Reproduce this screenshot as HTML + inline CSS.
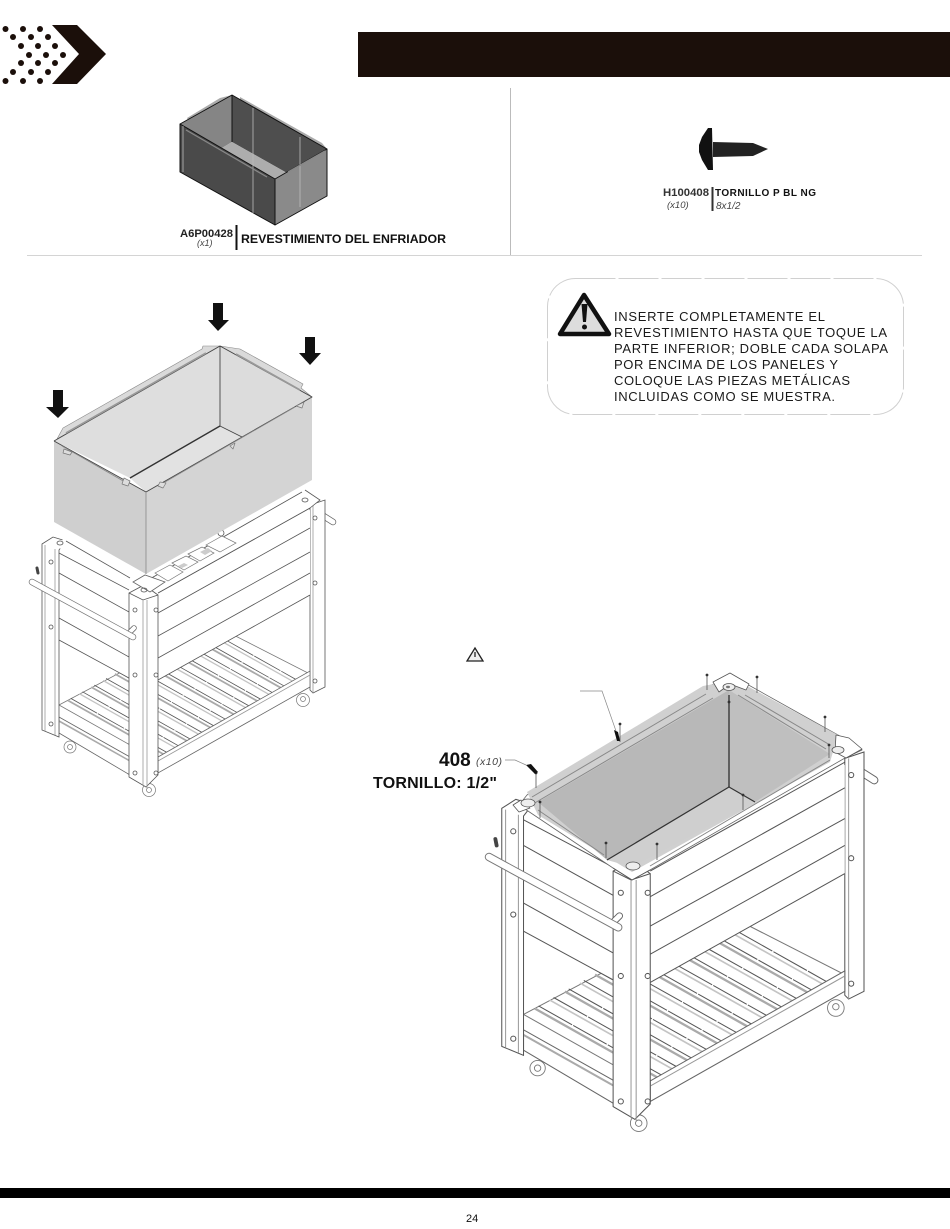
<!DOCTYPE html>
<html><head><meta charset="utf-8"><style>
html,body{margin:0;padding:0;background:#fff}
svg{display:block}
text{font-family:"Liberation Sans",sans-serif}
.l{stroke:#555;stroke-width:.8;fill:none}
.g{stroke:#999;stroke-width:.8;fill:none}
.w{fill:#fff;stroke:#555;stroke-width:.8}
</style></head><body>
<svg width="950" height="1229" viewBox="0 0 950 1229" xmlns="http://www.w3.org/2000/svg">
<defs>
<g id="cart">
 <!-- casters -->
 <g fill="#fff" stroke="#777" stroke-width=".7">
  <circle cx="70" cy="747" r="6"/><circle cx="70" cy="747" r="2.500"/>
  <circle cx="303" cy="700" r="6.500"/><circle cx="303" cy="699" r="2.500"/>
  <circle cx="149" cy="790" r="6.500"/><circle cx="149" cy="790" r="2.500"/>
 </g>
 <!-- right stub handle -->
 <path d="M322 515L333 522" stroke="#666" stroke-width="6.500" stroke-linecap="round"/>
 <path d="M322 515L333 522" stroke="#fff" stroke-width="5" stroke-linecap="round"/>
 <!-- back right post -->
 <path class="w" d="M310 505L325 500L325 687L313 693L310 690Z"/>
 <path class="g" d="M313 505L313 693"/>
 <circle cx="315" cy="518" r="2" class="l"/><circle cx="315" cy="583" r="2" class="l"/><circle cx="315" cy="681" r="2" class="l"/>
 <!-- shelf -->
 <path fill="#fff" stroke="#777" stroke-width=".8" d="M59 705L212 624L308 673L155 759Z"/>
 <path class="l" stroke-dasharray="30 1" d="M70.800 698.400L166.800 752.400M82.500 691.800L178.500 745.800M94.300 685.100L190.300 739.100M106.100 678.500L202.100 732.500M117.900 671.900L213.900 725.900M129.600 665.300L225.600 719.300M141.400 658.700L237.400 712.700M153.200 652L249.200 706M164.900 645.400L260.900 699.400M176.700 638.800L272.700 692.800M188.500 632.200L284.500 686.200M200.200 625.600L296.200 679.600"/>
 <path transform="translate(-3,2)" stroke="#aaa" stroke-width="1.800" fill="none" d="M70.800 698.400L166.800 752.400M94.300 685.100L190.300 739.100M117.900 671.900L213.900 725.900M141.400 658.700L237.400 712.700M164.900 645.400L260.900 699.400M188.500 632.200L284.500 686.200"/>
 <path transform="translate(-3,2)" stroke="#c4c4c4" stroke-width="1.300" fill="none" d="M82.500 691.800L178.500 745.800M106.100 678.500L202.100 732.500M129.600 665.300L225.600 719.300M153.200 652L249.200 706M176.700 638.800L272.700 692.800M200.200 625.600L296.200 679.600"/>
 <!-- lower rails -->
 <path fill="#fff" stroke="#666" stroke-width=".8" d="M158 757L310 671L310 687L158 773Z"/>
 <path class="g" d="M158 761L310 675"/>
 <path fill="#fff" stroke="#666" stroke-width=".8" d="M59 717L130 757L130 775L59 733Z"/>
 <path stroke="#aaa" stroke-width="1.600" fill="none" d="M59 721L130 761"/>
 <!-- side panels -->
 <path fill="#fff" stroke="none" d="M158 595L310 510L310 595L158 680Z"/>
 <path class="l" d="M158 593L310 508M158 613L310 528M158 636L310 552M158 658L310 573M158 680L310 595"/>
 <path fill="#fff" stroke="none" d="M59 553L129 590L129 678L59 640Z"/>
 <path class="l" d="M59 553L129 590M59 573L129 612M59 618L129 657M59 640L129 678"/>
 <!-- back-left post -->
 <path d="M37 568L38 573" stroke="#444" stroke-width="3" stroke-linecap="round"/>
 <path class="w" d="M42 544L53 537L66 541L59 550L59 737L42 730Z"/>
 <path class="g" d="M45 545L45 731M55 549L55 735"/>
 <circle cx="51" cy="562" r="2" class="l"/><circle cx="51" cy="627" r="2" class="l"/><circle cx="51" cy="724" r="2" class="l"/>
 <!-- front post -->
 <path class="w" d="M129 593L144 585L158 595L158 775L146 787L129 777Z"/>
 <path class="l" d="M129 593L143 600L158 595"/>
 <path class="g" d="M143 600L143 786M147 600L147 788"/>
 <circle cx="135" cy="610" r="2" class="l"/><circle cx="135" cy="675" r="2" class="l"/><circle cx="135" cy="773" r="2" class="l"/>
 <circle cx="156" cy="610" r="2" class="l"/><circle cx="156" cy="675" r="2" class="l"/><circle cx="156" cy="773" r="2" class="l"/>
 <!-- handle -->
 <path d="M134 628L130 632" stroke="#666" stroke-width="5.500" stroke-linecap="round"/>
 <path d="M134 628L130 632" stroke="#fff" stroke-width="4" stroke-linecap="round"/>
 <path d="M32 582L133 637" stroke="#777" stroke-width="6.500" stroke-linecap="round"/>
 <path d="M32 582L133 637" stroke="#fff" stroke-width="5" stroke-linecap="round"/>
</g>
</defs>

<rect width="950" height="1229" fill="#fff"/>

<!-- logo -->
<g fill="#1b0f0a">
 <path d="M52 25L77 25L106 54L77 84L52 84L79 54Z"/>
 <circle cx="5.500" cy="29" r="3"/><circle cx="23" cy="29" r="3"/><circle cx="40" cy="29" r="3"/>
 <circle cx="13" cy="37" r="3"/><circle cx="31" cy="37" r="3"/><circle cx="48" cy="37" r="3"/>
 <circle cx="21" cy="46" r="3"/><circle cx="38" cy="46" r="3"/><circle cx="55" cy="46" r="3"/>
 <circle cx="29" cy="55" r="3"/><circle cx="46" cy="55" r="3"/><circle cx="63" cy="55" r="3"/>
 <circle cx="21" cy="63" r="3"/><circle cx="38" cy="63" r="3"/><circle cx="55" cy="63" r="3"/>
 <circle cx="13" cy="72" r="3"/><circle cx="31" cy="72" r="3"/><circle cx="48" cy="72" r="3"/>
 <circle cx="5.500" cy="81" r="3"/><circle cx="23" cy="81" r="3"/><circle cx="40" cy="81" r="3"/>
</g>
<rect x="358" y="32" width="592" height="45" fill="#1b0f0a"/>

<!-- dividers -->
<path d="M510.500 88V255" stroke="#bbb" stroke-width="1"/>
<path d="M27 255.500H922" stroke="#d4d4d4" stroke-width="1"/>

<!-- small liner -->
<g stroke-linejoin="round">
 <path fill="#aaa" d="M187 118L220 98L232 95L232 100L190 124ZM240 97L322 143L327 149L240 102Z"/>
 <path fill="#4e4e4e" d="M232 95L327 149L287 173L232 142Z"/>
 <path fill="#858585" d="M180 124L232 95L232 142L222 148Z"/>
 <path fill="#adadad" d="M232 142L287 173L275 179L222 148Z"/>
 <path fill="#4a4a4a" stroke="#111" stroke-width="1" d="M180 124L275 179L275 225L180 172Z"/>
 <path fill="#8a8a8a" stroke="#111" stroke-width="1" d="M275 179L327 149L327 196L275 225Z"/>
 <path stroke="#bbb" stroke-width=".8" fill="none" d="M253 108V213M300 137V207M183 126V172"/>
 <path stroke="#111" stroke-width="1" fill="none" d="M180 124L232 95L327 149M232 95V142"/>
 <path stroke="#888" stroke-width="1.300" fill="none" d="M186 130L267 177M288 172L325 151"/>
</g>

<!-- labels top -->
<text x="180" y="237" font-size="11" font-weight="700" textLength="53" lengthAdjust="spacingAndGlyphs" fill="#222">A6P00428</text>
<text x="197" y="246" font-size="9" font-style="italic" fill="#444">(x1)</text>
<rect x="235.500" y="225" width="2" height="25" fill="#111"/>
<text x="241" y="243" font-size="11.500" font-weight="700" textLength="205" lengthAdjust="spacingAndGlyphs" fill="#111">REVESTIMIENTO DEL ENFRIADOR</text>

<!-- screw -->
<path fill="#111" d="M708 128L712 128L713 170L708 170L702 160L699 152L699 145L702 137Z"/>
<path fill="#222" d="M713 142L753 143L768 149L753 156L713 157Z"/>
<text x="663" y="196" font-size="11" font-weight="700" textLength="46" lengthAdjust="spacingAndGlyphs" fill="#333">H100408</text>
<text x="667" y="208" font-size="9.500" font-style="italic" fill="#444">(x10)</text>
<rect x="711.500" y="187" width="2" height="24" fill="#333"/>
<text x="715" y="196" font-size="10" font-weight="700" textLength="101" fill="#111">TORNILLO P BL NG</text>
<text x="716" y="209" font-size="10" font-style="italic" fill="#444">8x1/2</text>

<!-- note box -->
<rect x="547.500" y="278.500" width="356" height="136" rx="28" fill="#fff" stroke="#d0d0d0" stroke-width="1" stroke-dasharray="40 3"/>
<path d="M584 295L560 334H609Z" fill="#ddd" stroke="#111" stroke-width="4.500" stroke-linejoin="round"/>
<path d="M581.500 304H587.500L586 322H583Z" fill="#111"/><circle cx="584.500" cy="327" r="2.500" fill="#111"/>
<g font-size="13" fill="#1a1a1a">
 <text x="614" y="321" textLength="211">INSERTE COMPLETAMENTE EL</text>
 <text x="614" y="337" textLength="273">REVESTIMIENTO HASTA QUE TOQUE LA</text>
 <text x="614" y="353" textLength="274">PARTE INFERIOR; DOBLE CADA SOLAPA</text>
 <text x="614" y="369" textLength="224">POR ENCIMA DE LOS PANELES Y</text>
 <text x="614" y="385" textLength="236">COLOQUE LAS PIEZAS METÁLICAS</text>
 <text x="614" y="401" textLength="221">INCLUIDAS COMO SE MUESTRA.</text>
</g>

<!-- cart 1 -->
<use href="#cart"/>
<!-- cart 1 top detail -->
<g>
 <path fill="#fff" d="M66 532L148 575L305 490L320 500L310 508L158 593L144 585L59 548Z"/>
 <path class="l" d="M66 541L130 578M148 580L302 492M305 490L320 500L310 508M158 593L310 508"/>
 <path fill="#fff" stroke="#666" stroke-width=".8" d="M133 582L145 575L165 582L150 592Z"/>
 <path fill="#fff" stroke="#777" stroke-width=".7" d="M155 573L170 565L183 572L168 581ZM172 563L186 556L198 562L184 570ZM188 554L202 547L214 553L200 561ZM206 545L222 536L236 543L220 552Z"/>
 <path fill="#ccc" stroke="none" d="M178 566L184 563L188 565L182 568ZM200 552L208 548L212 551L205 555Z"/>
 <circle cx="221" cy="533" r="3" class="l"/>
 <ellipse cx="60" cy="543" rx="3" ry="2" class="l"/>
 <ellipse cx="305" cy="500" rx="3" ry="2" class="l"/>
 <ellipse cx="144" cy="590" rx="3" ry="2" class="l"/>
</g>

<!-- big liner -->
<g stroke-linejoin="round">
 <path fill="#dedede" d="M54 441L220 346L220 426L130 478Z"/>
 <path fill="#dcdcdc" d="M220 346L312 397L242 437L220 426Z"/>
 <path fill="#e2e2e2" d="M220 426L242 437L146 492L130 478Z"/>
 <path fill="#dadada" stroke="#888" stroke-width=".6" d="M63 428L202 349L203 346L220 346L57 439Z"/>
 <path fill="#dadada" stroke="#888" stroke-width=".6" d="M220 346L240 349L303 384L301 388L312 397Z"/>
 <path fill="#cfcfcf" d="M54 441L146 492L146 574L54 522Z"/>
 <path fill="#d4d4d4" d="M146 492L312 397L312 480L146 574Z"/>
 <path stroke="#444" stroke-width=".9" fill="none" d="M54 441L146 492L312 397L220 346L54 441M220 346V426M130 478L220 426L242 437"/>
 <path stroke="#888" stroke-width=".8" fill="none" d="M146 492V574M62 446L125 482M165 482L295 407"/>
 <path stroke="#999" stroke-width="1.800" fill="none" d="M66 433L206 353M236 354L300 390"/>
 <path stroke="#333" stroke-width="1.300" fill="none" d="M130 478L220 426"/>
 <path fill="#ddd" stroke="#777" stroke-width=".7" d="M124 478L130 481L128 486L122 484ZM160 482L166 483L163 488L158 486ZM230 446L235 443L233 449ZM296 406L304 402L302 408ZM64 449L72 452L70 455L63 453Z"/>
</g>

<!-- arrows -->
<g fill="#111">
 <path d="M213 303H223V320H229L218 331L208 320H213Z"/>
 <path d="M305 337H315V353H321L310 365L299 353H305Z"/>
 <path d="M53 390H63V407H69L58 418L46 407H53Z"/>
</g>

<!-- small warning -->
<path d="M475 648L467 661H483Z" fill="#eee" stroke="#222" stroke-width="1.300"/>
<path d="M475 652V657" stroke="#222" stroke-width="1.300"/>

<!-- cart 2 -->
<g transform="matrix(1.28 0 0 1.28 448 112)"><use href="#cart"/></g>

<!-- cart 2 top -->
<g stroke-linejoin="round">
 <path fill="#fff" stroke="#666" stroke-width=".8" d="M519 805L527 795L703 688L725 680L736 678L838 735L862 750L845 758L650 870L632 880L613 868Z"/>
 <path fill="#d0d0d0" d="M527 792L703 686L736 680L838 735L830 762L632 872L538 815Z"/>
 <path fill="#b8b8b8" d="M538 802L729 690L729 787L607 860Z"/>
 <path fill="#bfbfbf" d="M729 690L830 754L755 802L729 787Z"/>
 <path fill="#cfcfcf" d="M729 787L755 802L632 867L607 860Z"/>
 <path stroke="#888" stroke-width="1" fill="none" d="M532 797L706 694M533 804L713 698M745 695L830 745M738 695L826 749M538 810L604 855M650 866L830 760"/>
 <path stroke="#555" stroke-width="1.800" fill="none" d="M729 695V787"/>
 <path stroke="#333" stroke-width="1.200" fill="none" d="M607 860L729 787L755 802"/>
 <path fill="#fff" stroke="#555" stroke-width=".8" d="M713 682L730 673L749 684L746 690L730 684L719 692Z"/>
 <ellipse cx="729" cy="687" rx="6" ry="3.500" fill="#eee" stroke="#555" stroke-width=".8"/>
 <ellipse cx="728" cy="687" rx="2" ry="1.200" fill="#777"/>
 <path fill="#fff" stroke="#555" stroke-width=".8" d="M836 735L849 738L862 749L846 758L835 752Z"/>
 <ellipse cx="838" cy="750" rx="6" ry="3.500" fill="#eee" stroke="#555" stroke-width=".8"/>
 <path fill="#fff" stroke="#555" stroke-width=".8" d="M513 805L521 800L530 808L519 812Z"/>
 <ellipse cx="528" cy="803" rx="7" ry="4" fill="#eee" stroke="#555" stroke-width=".8"/>
 <ellipse cx="633" cy="866" rx="7" ry="4" fill="#eee" stroke="#555" stroke-width=".8"/>
 <path class="l" d="M613 868L632 880L650 870"/>
 <g stroke="#555" stroke-width=".8">
  <path d="M707 675V690M757 677V693M825 717V732M620 724V742M536 773V788M540 802V818M606 843V858M657 844V860M743 795V810M829 745V758"/>
 </g>
 <g fill="#333">
  <circle cx="707" cy="675" r="1.400"/><circle cx="757" cy="677" r="1.400"/><circle cx="825" cy="717" r="1.400"/><circle cx="620" cy="724" r="1.400"/><circle cx="536" cy="773" r="1.400"/><circle cx="540" cy="802" r="1.400"/><circle cx="606" cy="843" r="1.400"/><circle cx="657" cy="844" r="1.400"/><circle cx="743" cy="795" r="1.400"/><circle cx="829" cy="745" r="1.400"/><circle cx="729" cy="702" r="1.400"/>
 </g>
</g>

<!-- leaders and screw callout -->
<path d="M580 691H602L616 731" fill="none" stroke="#888" stroke-width=".7"/>
<path d="M614 730L618 732L620 741L617 741Z" fill="#111"/>
<path d="M505 760H515L526 765" fill="none" stroke="#888" stroke-width=".7"/>
<path d="M526 765L531 764L538 772L535 774Z" fill="#111"/>
<text x="439" y="766" font-size="19" font-weight="700" fill="#111">408</text>
<text x="476" y="765" font-size="10.500" font-style="italic" textLength="26" fill="#444">(x10)</text>
<text x="373" y="788" font-size="16" font-weight="700" textLength="124" fill="#111">TORNILLO: 1/2"</text>

<!-- footer -->
<rect x="0" y="1188" width="950" height="10" fill="#000"/>
<text x="466" y="1222" font-size="11" fill="#111">24</text>
</svg>
</body></html>
